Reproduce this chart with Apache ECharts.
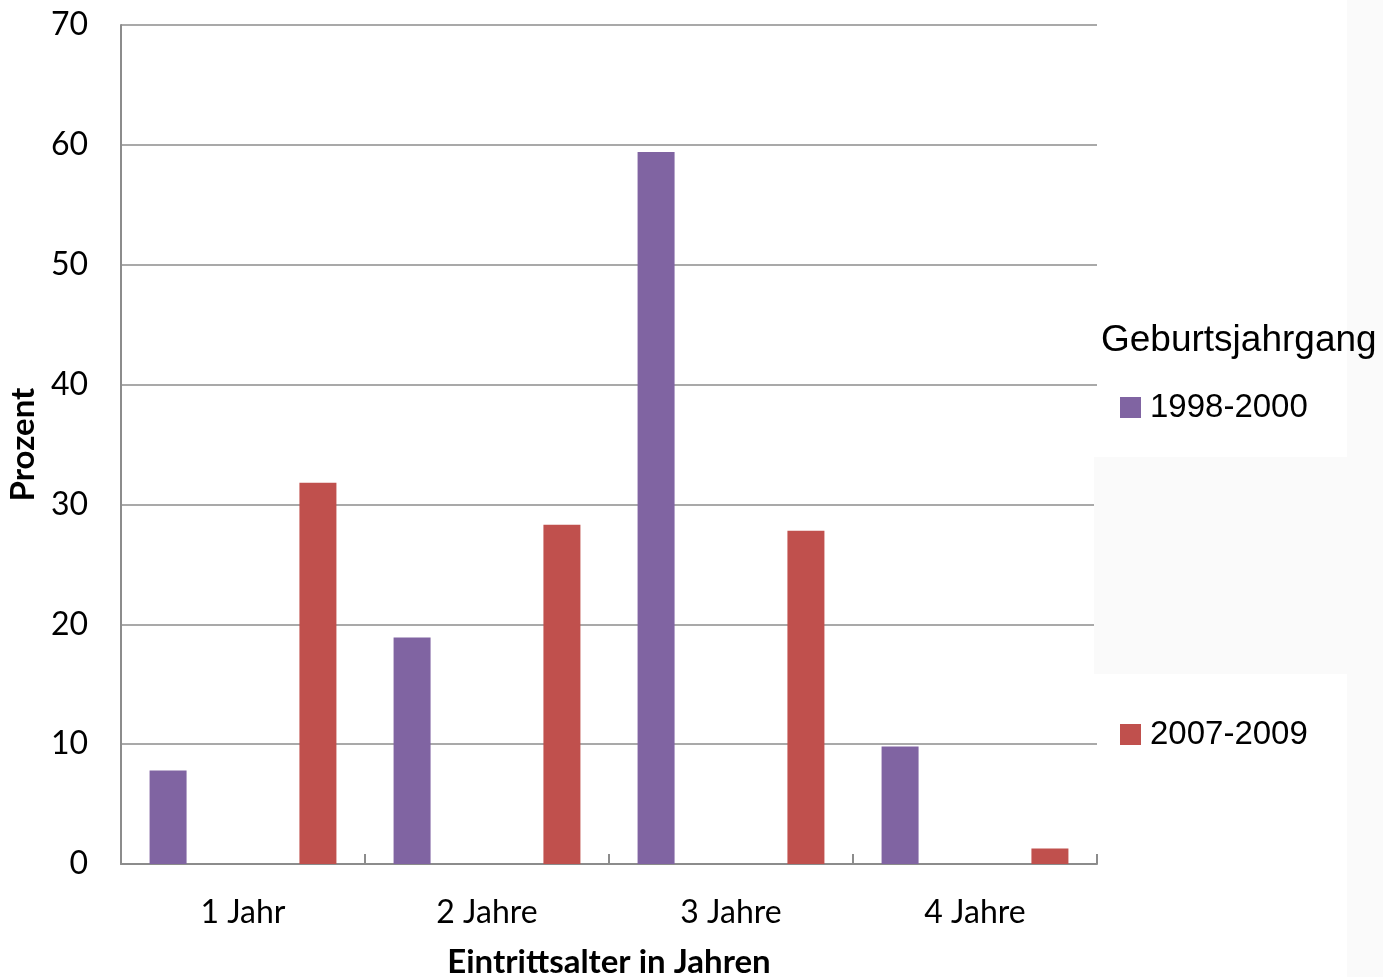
<!DOCTYPE html>
<html>
<head>
<meta charset="utf-8">
<script src="https://cdn.jsdelivr.net/npm/echarts@6/dist/echarts.min.js"></script>
<style>
html,body{margin:0;padding:0;background:#fff;}
#chart{width:1383px;height:977px;}
</style>
</head>
<body>
<div id="chart"></div>
<script>
const categories = ['1 Jahr', '2 Jahre', '3 Jahre', '4 Jahre'];
const seriesNames = ['1998-2000', '2007-2009'];
const values1998 = [7.8, 18.9, 59.4, 9.8];
const values2007 = [31.8, 28.3, 27.8, 1.3];
const yTicks = { min: 0, max: 70, interval: 10 };
const legendTitle = 'Geburtsjahrgang';
const xName = 'Eintrittsalter in Jahren';
const yName = 'Prozent';

const chart = echarts.init(document.getElementById('chart'));
const axisGray = '#8c8c8c';
chart.setOption({
  backgroundColor: '#ffffff',
  animation: false,
  legend: {
    orient: 'vertical',
    left: 1120, top: 391,
    padding: 0,
    itemWidth: 21, itemHeight: 21, itemGap: 294,
    icon: 'rect',
    textStyle: { fontFamily: 'Liberation Sans', fontSize: 33, color: '#000', lineHeight: 32, padding: [0,0,0,4] },
    data: seriesNames
  },
  graphic: [
    { type: 'rect', left: 1094, top: 457, shape: { width: 253, height: 217 }, style: { fill: '#fafafa' }, z: 10 },
    { type: 'rect', left: 1347, top: 0, shape: { width: 36, height: 977 }, style: { fill: '#fafafa' }, z: 10 },
    { type: 'text', left: 1101, top: 322, z: 20, style: { text: legendTitle, fontFamily: 'Liberation Sans', fontSize: 37, fill: '#000' } }
  ],
  grid: { left: 121, right: 286, top: 25, bottom: 113, containLabel: false, outerBoundsMode: 'none' },
  xAxis: {
    type: 'category',
    data: categories,
    name: xName,
    nameLocation: 'middle',
    nameGap: 82,
    nameTextStyle: { fontFamily: 'Lato', fontWeight: 'bold', fontSize: 33, color: '#000' },
    axisLine: { lineStyle: { color: axisGray, width: 2 } },
    axisTick: { show: true, inside: true, length: 10, lineStyle: { color: axisGray, width: 2 } },
    axisLabel: { fontFamily: 'Lato', fontSize: 32, color: '#000', margin: 33 },
    splitLine: { show: false }
  },
  yAxis: {
    type: 'value',
    min: yTicks.min, max: yTicks.max, interval: yTicks.interval,
    name: yName,
    nameLocation: 'middle',
    nameGap: 80,
    nameRotate: 90,
    nameTextStyle: { fontFamily: 'Lato', fontWeight: 'bold', fontSize: 33, color: '#000' },
    axisLine: { show: true, lineStyle: { color: axisGray, width: 2 } },
    axisTick: { show: false },
    axisLabel: { fontFamily: 'Lato', fontSize: 32, color: '#000', margin: 33 },
    splitLine: { show: true, lineStyle: { color: axisGray, width: 1.5 } }
  },
  series: [
    { name: seriesNames[0], type: 'bar', data: values1998, barWidth: 37, barGap: '305%', itemStyle: { color: '#8064A2' } },
    { name: seriesNames[1], type: 'bar', data: values2007, barWidth: 37, barGap: '305%', itemStyle: { color: '#C0504D' } }
  ]
});
</script>
</body>
</html>
